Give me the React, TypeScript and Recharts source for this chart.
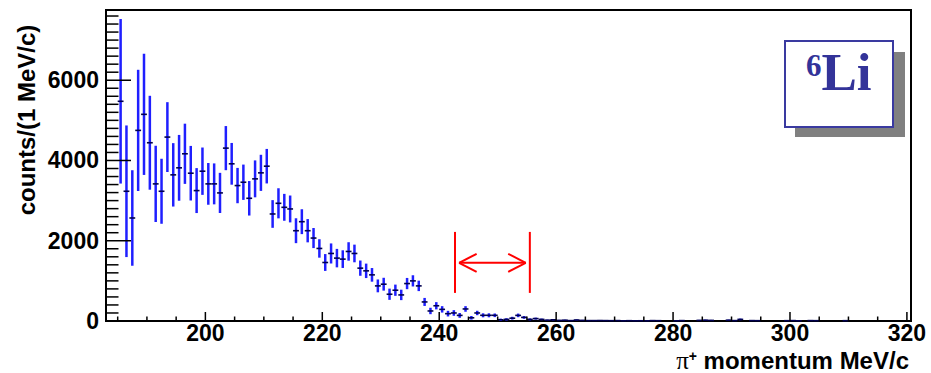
import React from 'react';
import {
  ComposedChart, Scatter, ErrorBar, XAxis, YAxis,
  ReferenceArea, ReferenceLine,
} from 'recharts';

// 1 MeV/c bins, first bin starts at 185 MeV/c
const firstBin = 185;
const binWidth = 1;

// counts per bin (null = empty bin, not drawn)
const counts: (number | null)[] = [
  5475, 3233, 2567, 4750, 5150, 4442, 3417, 3233, 4583, 3642, // 185-194
  3817, 4167, 3683, 3250, 3733, 3417, 3417, 3192, 4308, 3917, // 195-204
  3375, 3458, 3058, 3542, 3692, 3858, 2667, 2933, 2833, 2792, // 205-214
  2250, 2475, 2250, 2067, 1808, 1458, 1683, 1567, 1542, 1733, // 215-224
  1683, 1317, 1250, 1150, 875, 917, 667, 767, 650, 933,       // 225-234
  1000, 875, 475, 250, 380, 290, 183, 200, 140, 300,          // 235-244
  80, 200, 142, 142, 142, 30, 40, 70, 140, 90,                // 245-254
  40, 60, 40, 20, 30, 15, 20, 10, 25, 15,                     // 255-264
  10, 10, 12, 10, 8, 10, 5, 8, 5, 6,                          // 265-274
  5, 10, 8, null, null, 5, 10, null, null, 15,                // 275-284
  20, 15, null, null, 20, 10, 40, null, 10, 8,                // 285-294
  null, null, null, null, 8, 10, 5, null, 10, 8,              // 295-304
  null, null, null, null, 8, null,                            // 305-310
];

// statistical errors per bin
const errors: number[] = [
  2050, 1640, 1190, 1510, 1510, 1170, 950, 810, 870, 790,
  820, 750, 680, 560, 590, 520, 510, 500, 550, 520,
  440, 440, 430, 460, 450, 430, 345, 375, 335, 335,
  310, 310, 290, 250, 230, 210, 250, 230, 220, 230,
  220, 190, 180, 170, 160, 160, 140, 140, 130, 140,
  140, 130, 100, 80, 90, 80, 70, 70, 60, 70,
  45, 55, 50, 50, 45, 30, 30, 35, 45, 35,
  25, 25, 20, 15, 15, 12, 12, 10, 15, 12,
  10, 10, 10, 10, 8, 10, 6, 8, 6, 6,
  6, 10, 8, 0, 0, 6, 10, 0, 0, 12,
  14, 12, 0, 0, 14, 10, 20, 0, 10, 8,
  0, 0, 0, 0, 8, 10, 6, 0, 10, 8,
  0, 0, 0, 0, 8, 0,
];

const xMajorTicks = [200, 220, 240, 260, 280, 300, 320];
const yMajorTicks = [0, 2000, 4000, 6000];
const xDomain: [number, number] = [183, 320.7];
const yDomain: [number, number] = [0, 7750];

// selected momentum window (red arrow)
const windowLo = 242.7;
const windowHi = 255.5;

const bins = counts
  .map((c, i) =>
    c == null
      ? null
      : { x: firstBin + binWidth * (i + 0.5), y: c, ex: binWidth / 2, ey: errors[i] }
  )
  .filter(Boolean) as { x: number; y: number; ex: number; ey: number }[];

const xTicks: number[] = [];
for (let v = 185; v <= 320; v += 5) xTicks.push(v);
const yTicks: number[] = [];
for (let v = 0; v <= 7600; v += 200) yTicks.push(v);

const font = '"Liberation Sans", Arial, sans-serif';

const XTick = (props: any) => {
  const { x, y, payload } = props;
  const major = xMajorTicks.includes(payload.value);
  return (
    <g>
      <line x1={x} y1={y} x2={x} y2={y - (major ? 9 : 4.5)} stroke="#000" strokeWidth={1.5} />
      {major && (
        <text x={x} y={y + 20} textAnchor="middle" fontFamily={font} fontWeight="bold" fontSize={23} fill="#000">
          {payload.value}
        </text>
      )}
    </g>
  );
};

const YTick = (props: any) => {
  const { x, y, payload } = props;
  const major = yMajorTicks.includes(payload.value);
  return (
    <g>
      <line x1={x} y1={y} x2={x + (major ? 25 : 12.5)} y2={y} stroke="#000" strokeWidth={1.5} />
      {major && (
        <text x={x - 7} y={y + 8} textAnchor="end" fontFamily={font} fontWeight="bold" fontSize={23} fill="#000">
          {payload.value}
        </text>
      )}
    </g>
  );
};

const red = '#ff0000';
const arrowY = 1450;
const headDx = 3;
const headDy = 225;

export default function App() {
  return (
    <div style={{ position: 'absolute', left: 0, top: 0, width: 931, height: 373, background: '#fff' }}>
      <ComposedChart width={931} height={373} data={bins} margin={{ top: 10, right: 20, bottom: 0, left: 0 }}>
        <XAxis
          type="number"
          dataKey="x"
          domain={xDomain}
          ticks={xTicks}
          interval={0}
          allowDataOverflow
          height={52}
          axisLine={false}
          tickLine={false}
          tickSize={0}
          tickMargin={0}
          tick={XTick}
          label={{
            content: () => (
              <text x={909} y={369} textAnchor="end" fontFamily={font} fontWeight="bold" fontSize={24} fill="#000">
                <tspan fontFamily='"Liberation Serif", serif' fontWeight="normal" fontSize={25}>π</tspan>
                <tspan dy={-8} fontSize={14}>+</tspan>
                <tspan dy={8}> momentum MeV/c</tspan>
              </text>
            ),
          }}
        />
        <YAxis
          type="number"
          dataKey="y"
          domain={yDomain}
          ticks={yTicks}
          interval={0}
          allowDataOverflow
          width={106}
          axisLine={false}
          tickLine={false}
          tickSize={0}
          tickMargin={0}
          tick={YTick}
          label={{
            content: () => (
              <text
                transform="translate(35,120) rotate(-90)"
                textAnchor="middle"
                fontFamily={font}
                fontWeight="bold"
                fontSize={24}
                fill="#000"
              >
                counts/(1 MeV/c)
              </text>
            ),
          }}
        />
        <Scatter data={bins} dataKey="y" isAnimationActive={false} shape={() => <g />}>
          <ErrorBar dataKey="ey" direction="y" width={0} stroke="#1f1fff" strokeWidth={2.5} />
          <ErrorBar dataKey="ex" direction="x" width={0} stroke="#000050" strokeWidth={1.6} />
        </Scatter>

        {/* momentum window marker */}
        <ReferenceLine segment={[{ x: windowLo, y: 700 }, { x: windowLo, y: 2220 }]} stroke={red} strokeWidth={2} />
        <ReferenceLine segment={[{ x: windowHi, y: 700 }, { x: windowHi, y: 2220 }]} stroke={red} strokeWidth={2} />
        <ReferenceLine segment={[{ x: windowLo + 0.7, y: arrowY }, { x: windowHi - 0.7, y: arrowY }]} stroke={red} strokeWidth={2} />
        <ReferenceLine segment={[{ x: windowLo + 0.7, y: arrowY }, { x: windowLo + 0.7 + headDx, y: arrowY + headDy }]} stroke={red} strokeWidth={2} />
        <ReferenceLine segment={[{ x: windowLo + 0.7, y: arrowY }, { x: windowLo + 0.7 + headDx, y: arrowY - headDy }]} stroke={red} strokeWidth={2} />
        <ReferenceLine segment={[{ x: windowHi - 0.7, y: arrowY }, { x: windowHi - 0.7 - headDx, y: arrowY + headDy }]} stroke={red} strokeWidth={2} />
        <ReferenceLine segment={[{ x: windowHi - 0.7, y: arrowY }, { x: windowHi - 0.7 - headDx, y: arrowY - headDy }]} stroke={red} strokeWidth={2} />

        <ReferenceArea
          x1={xDomain[0]}
          x2={xDomain[1]}
          y1={yDomain[0]}
          y2={yDomain[1]}
          fill="none"
          fillOpacity={0}
          stroke="#000"
          strokeWidth={2}
          ifOverflow="visible"
        />
      </ComposedChart>

      {/* nucleus label box */}
      <div style={{ position: 'absolute', left: 795, top: 52, width: 110, height: 85, background: '#808080' }} />
      <div
        style={{
          position: 'absolute',
          left: 784,
          top: 40,
          width: 106,
          height: 84,
          background: '#fff',
          border: '2px solid #3a3aa0',
          fontFamily: '"Liberation Serif", "Times New Roman", serif',
          fontWeight: 'bold',
          color: '#333399',
        }}
      >
        <div style={{ position: 'absolute', left: 20, top: 4, whiteSpace: 'nowrap', lineHeight: 1 }}>
          <span style={{ fontSize: 31, position: 'relative', top: -14 }}>6</span>
          <span style={{ fontSize: 53 }}>Li</span>
        </div>
      </div>
    </div>
  );
}
